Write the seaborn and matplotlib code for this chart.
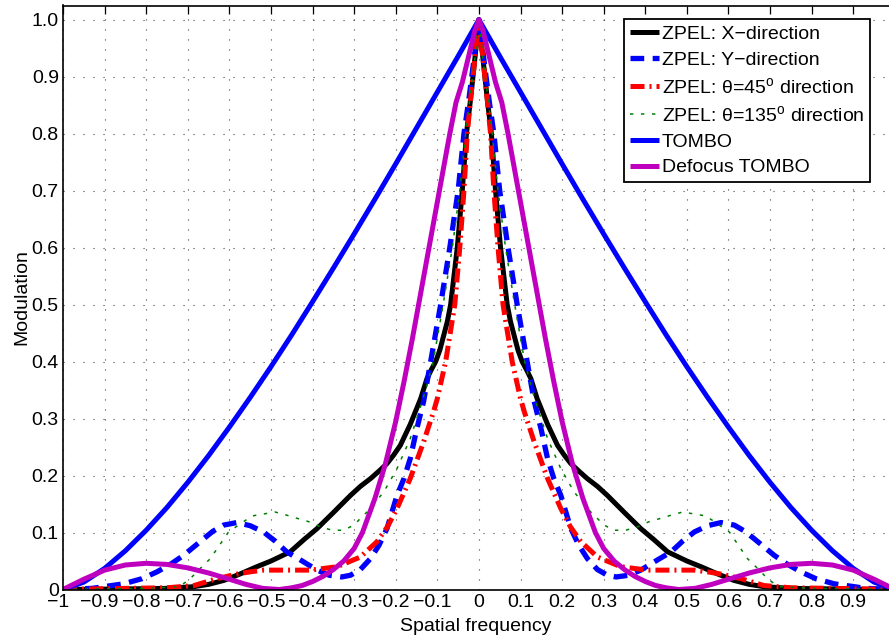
import numpy as np
import pandas as pd
import matplotlib
matplotlib.use("Agg")
import matplotlib.pyplot as plt
import matplotlib.transforms as mtransforms
import seaborn as sns

# ---- data (positive frequencies; curves are symmetric) ----
x_freq = [0, 0.01, 0.02, 0.03, 0.04, 0.052, 0.06, 0.068, 0.076, 0.085, 0.094, 0.104,
          0.115, 0.125, 0.14, 0.165, 0.189, 0.205, 0.221, 0.24, 0.26, 0.285, 0.309,
          0.35, 0.389, 0.42, 0.454, 0.5, 0.534, 0.575, 0.613, 0.65, 0.685, 0.75, 0.85, 1.0]
x_mod = [1.0, 0.93, 0.861, 0.80, 0.70, 0.60, 0.55, 0.50, 0.47, 0.445, 0.42, 0.40,
         0.385, 0.37, 0.335, 0.29, 0.253, 0.236, 0.221, 0.208, 0.195, 0.181, 0.165,
         0.135, 0.107, 0.088, 0.066, 0.05, 0.04, 0.027, 0.016, 0.009, 0.005, 0.002,
         0.001, 0.0]

y_freq = [0, 0.012, 0.024, 0.036, 0.05, 0.07, 0.092, 0.116, 0.133, 0.15, 0.165, 0.18,
          0.197, 0.221, 0.24, 0.261, 0.285, 0.309, 0.33, 0.36, 0.389, 0.425, 0.462,
          0.49, 0.518, 0.55, 0.582, 0.614, 0.64, 0.662, 0.71, 0.74, 0.774, 0.81,
          0.854, 0.93, 1.0]
y_mod = [1.0, 0.93, 0.861, 0.80, 0.70, 0.60, 0.50, 0.40, 0.33, 0.28, 0.23, 0.195,
         0.165, 0.107, 0.078, 0.054, 0.035, 0.025, 0.022, 0.025, 0.034, 0.05, 0.066,
         0.085, 0.101, 0.112, 0.1175, 0.113, 0.102, 0.089, 0.06, 0.045, 0.031, 0.019,
         0.01, 0.002, 0.0]

d45_freq = [0, 0.01, 0.02, 0.028, 0.036, 0.046, 0.058, 0.08, 0.1, 0.11, 0.133, 0.165,
            0.197, 0.22, 0.245, 0.285, 0.341, 0.405, 0.46, 0.518, 0.55, 0.582, 0.63,
            0.685, 0.75, 0.85, 1.0]
d45_mod = [1.0, 0.93, 0.861, 0.80, 0.70, 0.60, 0.50, 0.40, 0.335, 0.31, 0.259, 0.195,
           0.142, 0.11, 0.084, 0.057, 0.04, 0.034, 0.034, 0.034, 0.031, 0.027, 0.019,
           0.007, 0.003, 0.002, 0.0]

d135_freq = [0, 0.01, 0.022, 0.032, 0.046, 0.064, 0.086, 0.11, 0.128, 0.145, 0.165,
             0.197, 0.229, 0.269, 0.301, 0.325, 0.353, 0.381, 0.409, 0.4375, 0.46,
             0.49, 0.546, 0.602, 0.646, 0.67, 0.694, 0.72, 0.8, 0.9, 1.0]
d135_mod = [1.0, 0.93, 0.861, 0.80, 0.70, 0.60, 0.50, 0.40, 0.35, 0.31, 0.265, 0.212,
            0.171, 0.136, 0.113, 0.104, 0.104, 0.11, 0.119, 0.125, 0.13, 0.136, 0.129,
            0.101, 0.054, 0.037, 0.019, 0.005, 0.002, 0.001, 0.0]

tombo_freq = [0, 0.05, 0.1, 0.15, 0.2, 0.25, 0.3, 0.35, 0.4, 0.45, 0.5, 0.55, 0.6,
              0.65, 0.7, 0.75, 0.8, 0.85, 0.9, 0.95, 1.0]
tombo_mod = [1.0, 0.936, 0.873, 0.810, 0.747, 0.685, 0.624, 0.564, 0.505, 0.447, 0.391,
             0.337, 0.285, 0.235, 0.188, 0.144, 0.104, 0.068, 0.037, 0.013, 0.0]

defocus_freq = [0, 0.01, 0.02, 0.03, 0.04, 0.055, 0.07, 0.08, 0.10, 0.12, 0.14, 0.16,
                0.18, 0.20, 0.225, 0.25, 0.28, 0.30, 0.325, 0.35, 0.375, 0.40, 0.425,
                0.45, 0.48, 0.52, 0.56, 0.6, 0.65, 0.7, 0.75, 0.8, 0.85, 0.9, 0.95, 1.0]
defocus_mod = [1.0, 0.98, 0.95, 0.92, 0.89, 0.855, 0.80, 0.76, 0.68, 0.60, 0.52, 0.44,
               0.365, 0.295, 0.22, 0.16, 0.10, 0.072, 0.05, 0.035, 0.023, 0.014, 0.007,
               0.003, 0.0, 0.002, 0.009, 0.018, 0.029, 0.038, 0.044, 0.046, 0.043,
               0.034, 0.018, 0.0]

series_labels = ["ZPEL: X\u2212direction", "ZPEL: Y\u2212direction",
                 "ZPEL: \u03b8=45$^{\\mathrm{o}}$ direction",
                 "ZPEL: \u03b8=135$^{\\mathrm{o}}$ direction",
                 "TOMBO", "Defocus TOMBO"]

x_tick_labels = ["\u22121", "\u22120.9", "\u22120.8", "\u22120.7", "\u22120.6", "\u22120.5",
                 "\u22120.4", "\u22120.3", "\u22120.2", "\u22120.1", "0", "0.1", "0.2",
                 "0.3", "0.4", "0.5", "0.6", "0.7", "0.8", "0.9"]
y_tick_labels = ["0", "0.1", "0.2", "0.3", "0.4", "0.5", "0.6", "0.7", "0.8", "0.9", "1.0"]
x_label = "Spatial frequency"
y_label = "Modulation"


def mirrored(freq, mod):
    f = np.asarray(freq, float)
    m = np.asarray(mod, float)
    return np.concatenate([-f[:0:-1], f]), np.concatenate([m[:0:-1], m])


sns.set_theme(style="white")
plt.rcParams["font.family"] = ["Liberation Sans", "DejaVu Sans"]
plt.rcParams["mathtext.fontset"] = "custom"
plt.rcParams["mathtext.rm"] = "Liberation Sans"
plt.rcParams["mathtext.it"] = "Liberation Sans:italic"
plt.rcParams["mathtext.bf"] = "Liberation Sans:bold"

FS = 14

fig = plt.figure(figsize=(8.89, 6.38), dpi=100)
ax = fig.add_axes([63 / 889, 48.5 / 638, 826 / 889, 584 / 638])

styles = [
    dict(color="black", lw=3.6, dashes=None),
    dict(color="#0000ff", lw=3.8, dashes=(2.6, 1.6)),
    dict(color="#ff0000", lw=3.6, dashes=(2.8, 1.0, 0.4, 1.0)),
    dict(color="#008000", lw=1.1, dashes=(2.2, 5.0)),
    dict(color="#0000ff", lw=3.6, dashes=None),
    dict(color="#bf00bf", lw=3.6, dashes=None),
]
data_pairs = [(x_freq, x_mod), (y_freq, y_mod), (d45_freq, d45_mod),
              (d135_freq, d135_mod), (tombo_freq, tombo_mod), (defocus_freq, defocus_mod)]

for (fr, md), lab, st in zip(data_pairs, series_labels, styles):
    f, m = mirrored(fr, md)
    df = pd.DataFrame({"freq": f, "mod": m})
    sns.lineplot(data=df, x="freq", y="mod", ax=ax, color=st["color"],
                 linewidth=st["lw"], label=lab, estimator=None)
    line = ax.lines[-1]
    if st["dashes"] is not None:
        line.set_dashes(st["dashes"])
    line.set_solid_capstyle("butt")
    line.set_solid_joinstyle("round")

xt = [float(s.replace("\u2212", "-")) for s in x_tick_labels]
yt = [float(s) for s in y_tick_labels]
ax.set_xlim(-1, 0.986)
ax.set_ylim(0, 1.025)
ax.set_xticks(xt)
ax.set_xticklabels(x_tick_labels)
ax.set_yticks(yt)
ax.set_yticklabels(y_tick_labels)

ax.grid(True, which="major", color="#444444", linewidth=0.8, linestyle=(0, (1, 8)))
ax.tick_params(axis="both", direction="in", length=6, width=0.9, color="black",
               labelsize=FS, labelcolor="black", top=True, right=False)
ax.tick_params(axis="x", pad=3)
ax.tick_params(axis="y", pad=3)
for side in ["left", "bottom", "top"]:
    ax.spines[side].set_visible(True)
    ax.spines[side].set_color("black")
    ax.spines[side].set_linewidth(1.2)
ax.spines["right"].set_visible(False)

# MATLAB centres the digits of negative labels on the tick; the minus hangs left
shift = mtransforms.ScaledTranslation(-5 / 100, 0, fig.dpi_scale_trans)
for lbl in ax.get_xticklabels():
    if lbl.get_text().startswith("\u2212"):
        lbl.set_transform(lbl.get_transform() + shift)

ax.set_xlabel(x_label, fontsize=FS, labelpad=5, color="black")
ax.set_ylabel(y_label, fontsize=FS, labelpad=1, color="black")

leg = ax.legend(loc="upper right", bbox_to_anchor=(870 / 889, 1 - 19.3 / 638),
                bbox_transform=fig.transFigure, borderaxespad=0, fontsize=FS,
                frameon=True, fancybox=False, framealpha=1, edgecolor="black",
                handlelength=1.5, handletextpad=0.15, borderpad=0.3, labelspacing=0.42)
leg.get_frame().set_linewidth(1.3)
for t in leg.get_texts():
    t.set_color("black")

fig.savefig("out.png", dpi=100)
